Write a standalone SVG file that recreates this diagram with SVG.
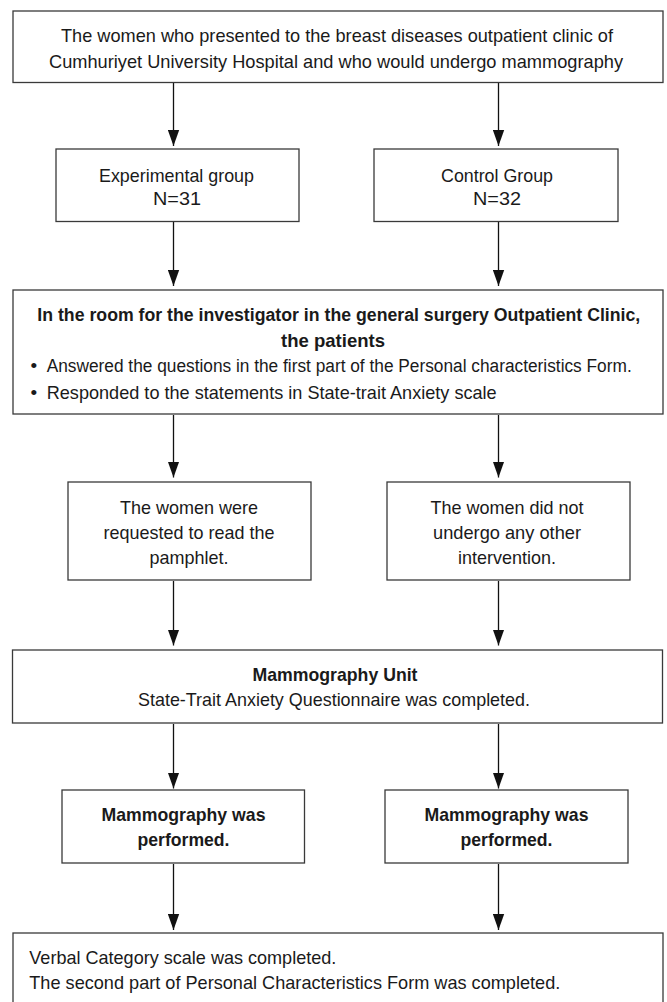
<svg xmlns="http://www.w3.org/2000/svg" width="667" height="1002" viewBox="0 0 667 1002">
<defs>
<marker id="ah" markerUnits="userSpaceOnUse" markerWidth="16" markerHeight="12" refX="16" refY="6" orient="auto">
<path d="M0,0.3 L16,6 L0,11.7 z" fill="#111"/>
</marker>
<style>
.box{fill:#fff;stroke:#3a3a3a;stroke-width:1.3}
.t{font-family:"Liberation Sans Narrow","Arial Narrow","Liberation Sans",Arial,sans-serif;font-size:19px;fill:#1a1a1a}
.s{font-size:18px}
.c{text-anchor:middle}
.b{font-weight:bold}
.conn line{stroke:#111;stroke-width:1.3;marker-end:url(#ah)}
</style>
</defs>
<rect width="667" height="1002" fill="#fff"/>
<g id="connectors" class="conn">
<line x1="173.5" y1="83" x2="173.5" y2="146"/>
<line x1="498.5" y1="83" x2="498.5" y2="146"/>
<line x1="173.5" y1="222" x2="173.5" y2="286"/>
<line x1="498.5" y1="222" x2="498.5" y2="286"/>
<line x1="173.5" y1="415" x2="173.5" y2="477.5"/>
<line x1="498.5" y1="415" x2="498.5" y2="477.5"/>
<line x1="173.5" y1="581" x2="173.5" y2="645.5"/>
<line x1="498.5" y1="581" x2="498.5" y2="645.5"/>
<line x1="173.5" y1="724" x2="173.5" y2="788.5"/>
<line x1="498.5" y1="724" x2="498.5" y2="788.5"/>
<line x1="173.5" y1="864" x2="173.5" y2="930"/>
<line x1="498.5" y1="864" x2="498.5" y2="930"/>
</g>
<g id="start">
<rect class="box" x="13" y="11" width="650" height="71.5"/>
<text class="t c" x="337" y="41.5" textLength="552" lengthAdjust="spacingAndGlyphs">The women who presented to the breast diseases outpatient clinic of</text>
<text class="t c" x="336" y="67.5" textLength="574" lengthAdjust="spacingAndGlyphs">Cumhuriyet University Hospital and who would undergo mammography</text>
</g>
<g id="experimental">
<rect class="box" x="56" y="149" width="243" height="72.5"/>
<text class="t c" x="176.5" y="181.5" textLength="155" lengthAdjust="spacingAndGlyphs">Experimental group</text>
<text class="t c" x="177" y="205" textLength="48" lengthAdjust="spacingAndGlyphs">N=31</text>
</g>
<g id="control">
<rect class="box" x="374" y="149" width="244" height="72.5"/>
<text class="t c" x="497" y="181.5" textLength="112" lengthAdjust="spacingAndGlyphs">Control Group</text>
<text class="t c" x="497" y="205" textLength="48" lengthAdjust="spacingAndGlyphs">N=32</text>
</g>
<g id="room">
<rect class="box" x="13" y="290" width="650" height="124"/>
<text class="t s c b" x="338.8" y="320.7" textLength="603" lengthAdjust="spacingAndGlyphs">In the room for the investigator in the general surgery Outpatient Clinic,</text>
<text class="t c b" x="333" y="346.5" textLength="104" lengthAdjust="spacingAndGlyphs">the patients</text>
<text class="t" x="30.5" y="371.7">•</text>
<text class="t s" x="46.7" y="371.7" textLength="585" lengthAdjust="spacingAndGlyphs">Answered the questions in the first part of the Personal characteristics Form.</text>
<text class="t" x="30.5" y="399">•</text>
<text class="t" x="46.7" y="399" textLength="450" lengthAdjust="spacingAndGlyphs">Responded to the statements in State-trait Anxiety scale</text>
</g>
<g id="pamphlet">
<rect class="box" x="68" y="482" width="243" height="98"/>
<text class="t c" x="189" y="514" textLength="138" lengthAdjust="spacingAndGlyphs">The women were</text>
<text class="t c" x="189" y="539.3" textLength="171" lengthAdjust="spacingAndGlyphs">requested to read the</text>
<text class="t c" x="189" y="564.3" textLength="79" lengthAdjust="spacingAndGlyphs">pamphlet.</text>
</g>
<g id="no-intervention">
<rect class="box" x="387" y="482" width="243" height="98"/>
<text class="t c" x="507" y="514" textLength="153" lengthAdjust="spacingAndGlyphs">The women did not</text>
<text class="t c" x="507" y="539.3" textLength="148" lengthAdjust="spacingAndGlyphs">undergo any other</text>
<text class="t c" x="507" y="564.3" textLength="98" lengthAdjust="spacingAndGlyphs">intervention.</text>
</g>
<g id="mammography-unit">
<rect class="box" x="12.5" y="650" width="650" height="73"/>
<text class="t c b" x="335" y="680.7" textLength="165" lengthAdjust="spacingAndGlyphs">Mammography Unit</text>
<text class="t c" x="334" y="706" textLength="392" lengthAdjust="spacingAndGlyphs">State-Trait Anxiety Questionnaire was completed.</text>
</g>
<g id="mammography-left">
<rect class="box" x="62" y="790" width="242.5" height="73"/>
<text class="t c b" x="183.5" y="820.7" textLength="164" lengthAdjust="spacingAndGlyphs">Mammography was</text>
<text class="t c b" x="183.5" y="846" textLength="92" lengthAdjust="spacingAndGlyphs">performed.</text>
</g>
<g id="mammography-right">
<rect class="box" x="385" y="790" width="243" height="73"/>
<text class="t c b" x="506.5" y="820.7" textLength="164" lengthAdjust="spacingAndGlyphs">Mammography was</text>
<text class="t c b" x="506.5" y="846" textLength="92" lengthAdjust="spacingAndGlyphs">performed.</text>
</g>
<g id="final">
<rect class="box" x="13" y="933" width="650" height="90"/>
<text class="t" x="29.3" y="964" textLength="307" lengthAdjust="spacingAndGlyphs">Verbal Category scale was completed.</text>
<text class="t" x="29.3" y="989.3" textLength="531" lengthAdjust="spacingAndGlyphs">The second part of Personal Characteristics Form was completed.</text>
</g>
</svg>
